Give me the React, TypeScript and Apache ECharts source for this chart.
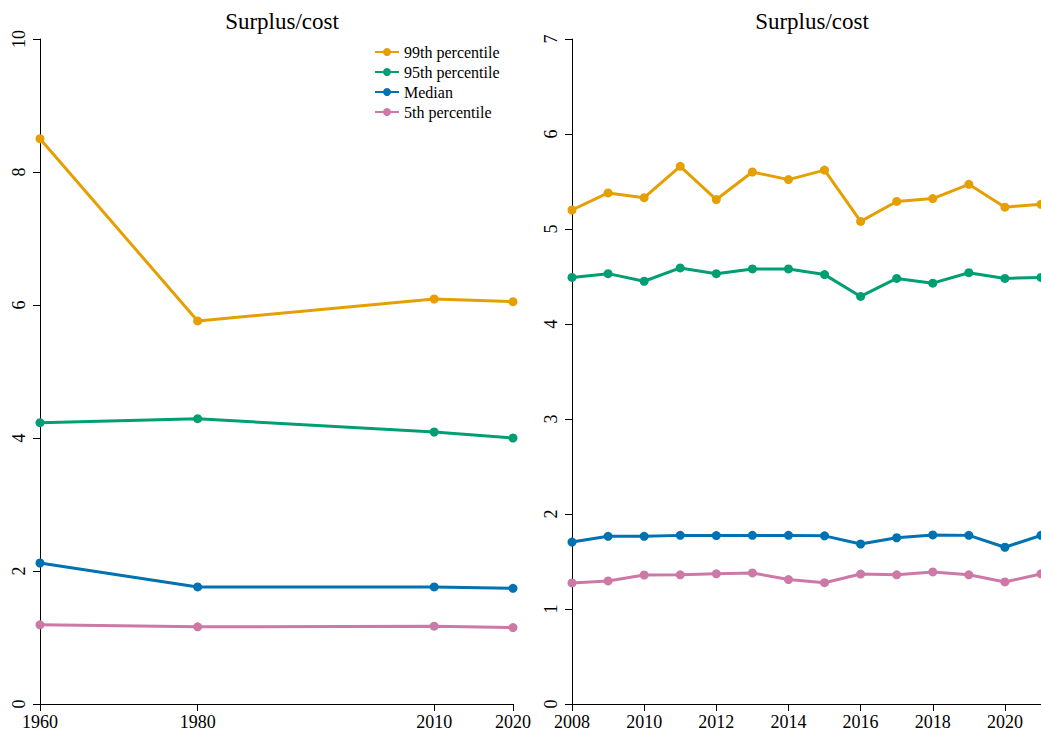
import React, { useEffect, useRef } from "react";
import * as echarts from "echarts";

// Long-run panel (decennial years)
const longYears = [1960, 1980, 2010, 2020];
const long99 = [8.5, 5.76, 6.09, 6.05];
const long95 = [4.23, 4.29, 4.09, 4.0];
const longMedian = [2.12, 1.76, 1.76, 1.74];
const long5 = [1.19, 1.16, 1.17, 1.15];

// Recent panel (annual)
const recentYears = [2008, 2009, 2010, 2011, 2012, 2013, 2014, 2015, 2016, 2017, 2018, 2019, 2020, 2021];
const recent99 = [5.2, 5.38, 5.33, 5.66, 5.31, 5.6, 5.52, 5.62, 5.08, 5.29, 5.32, 5.47, 5.23, 5.26];
const recent95 = [4.49, 4.53, 4.45, 4.59, 4.53, 4.58, 4.58, 4.52, 4.29, 4.48, 4.43, 4.54, 4.48, 4.49];
const recentMedian = [1.705, 1.765, 1.765, 1.775, 1.773, 1.775, 1.775, 1.77, 1.684, 1.75, 1.78, 1.775, 1.65, 1.775];
const recent5 = [1.274, 1.295, 1.358, 1.36, 1.37, 1.38, 1.31, 1.277, 1.368, 1.36, 1.39, 1.36, 1.285, 1.37];

const longTicks = [1960, 1980, 2010, 2020];
const recentTicks = [2008, 2010, 2012, 2014, 2016, 2018, 2020];

const seriesNames = ["99th percentile", "95th percentile", "Median", "5th percentile"];
const colors = ["#E69F00", "#009E73", "#0072B2", "#CC79A7"];

const FONT = "'Liberation Serif', 'Times New Roman', serif";

export default function App() {
  const ref = useRef<HTMLDivElement>(null);

  useEffect(() => {
    if (!ref.current) return;
    const chart = echarts.init(ref.current, null, { renderer: "svg" });

    const pair = (xs: number[], ys: number[]) => xs.map((x, i) => [x, ys[i]]);
    const longSets = [long99, long95, longMedian, long5];
    const recentSets = [recent99, recent95, recentMedian, recent5];

    const lineSeries = (name: string, color: string, data: number[][], idx: number) => ({
      type: "line",
      name,
      xAxisIndex: idx,
      yAxisIndex: idx,
      data,
      symbol: "circle",
      symbolSize: 9,
      showSymbol: true,
      itemStyle: { color },
      lineStyle: { color, width: 3 },
      emphasis: { disabled: true },
    });

    const axisCommon = {
      axisLine: { show: true, lineStyle: { color: "#000", width: 1 } },
      axisTick: { show: true, length: 7, lineStyle: { color: "#000", width: 1 } },
      splitLine: { show: false },
    };

    const labelStyle = { color: "#000", fontFamily: FONT, fontSize: 18 };

    chart.setOption({
      animation: false,
      textStyle: { fontFamily: FONT },
      title: [
        {
          text: "Surplus/cost",
          left: 277,
          top: 5,
          textAlign: "center",
          textStyle: { fontFamily: FONT, fontSize: 23, fontWeight: "normal", color: "#000" },
        },
        {
          text: "Surplus/cost",
          left: 807,
          top: 5,
          textAlign: "center",
          textStyle: { fontFamily: FONT, fontSize: 23, fontWeight: "normal", color: "#000" },
        },
      ],
      legend: {
        data: seriesNames,
        orient: "vertical",
        left: 369,
        top: 39,
        itemWidth: 24,
        itemHeight: 10,
        itemGap: 4,
        textStyle: { fontFamily: FONT, fontSize: 16, color: "#000" },
      },
      grid: [
        { left: 40, top: 39, width: 473, height: 665 },
        { left: 572, top: 39, width: 469, height: 665 },
      ],
      xAxis: [
        {
          type: "value",
          gridIndex: 0,
          min: 1960,
          max: 2020,
          interval: 10,
          ...axisCommon,
          axisTick: { ...axisCommon.axisTick, customValues: longTicks },
          axisLabel: { ...labelStyle, margin: 9, customValues: longTicks, formatter: (v: number) => String(v) },
        },
        {
          type: "value",
          gridIndex: 1,
          min: 2008,
          max: 2021,
          interval: 2,
          ...axisCommon,
          axisTick: { ...axisCommon.axisTick, customValues: recentTicks },
          axisLabel: { ...labelStyle, margin: 9, customValues: recentTicks, formatter: (v: number) => String(v) },
        },
      ],
      yAxis: [
        {
          type: "value",
          gridIndex: 0,
          min: 0,
          max: 10,
          interval: 2,
          ...axisCommon,
          axisLabel: { ...labelStyle, rotate: 90, margin: 12 },
        },
        {
          type: "value",
          gridIndex: 1,
          min: 0,
          max: 7,
          interval: 1,
          ...axisCommon,
          axisLabel: { ...labelStyle, rotate: 90, margin: 12 },
        },
      ],
      series: [
        ...seriesNames.map((n, i) => lineSeries(n, colors[i], pair(longYears, longSets[i]), 0)),
        ...seriesNames.map((n, i) => lineSeries(n, colors[i], pair(recentYears, recentSets[i]), 1)),
      ],
    });

    return () => chart.dispose();
  }, []);

  return (
    <div
      ref={ref}
      style={{ position: "absolute", left: 0, top: 0, width: 1041, height: 734, background: "#fff" }}
    />
  );
}
